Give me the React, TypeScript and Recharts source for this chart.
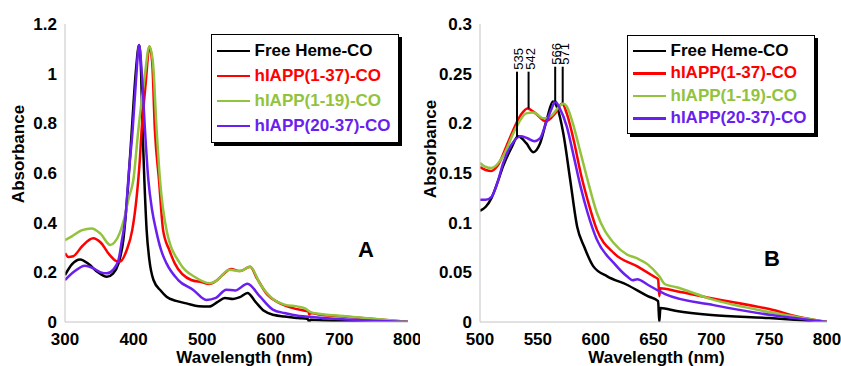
import { LineChart, Line, XAxis, YAxis, ReferenceLine, Label } from "recharts"

type Pt = [number, number]

const seriesNames = ["Free Heme-CO", "hIAPP(1-37)-CO", "hIAPP(1-19)-CO", "hIAPP(20-37)-CO"]
const seriesColors = ["#000000", "#ff0000", "#92c33c", "#6a1ff0"]

// panel A: 300-800 nm
const xTicksA = [300, 400, 500, 600, 700, 800]
const yTicksA = [0, 0.2, 0.4, 0.6, 0.8, 1, 1.2]

const freeA: Pt[] = [
  [300, 0.189], [310, 0.232], [322, 0.252], [335, 0.232], [348, 0.2], [361, 0.182], [370, 0.195],
  [378, 0.236], [385, 0.33], [392, 0.55], [398, 0.8], [403, 1.0], [408, 1.115], [411, 1.0],
  [413, 0.78], [416, 0.55], [419, 0.37], [423, 0.25], [429, 0.169], [440, 0.125], [448, 0.102],
  [462, 0.085], [477, 0.075], [495, 0.063], [510, 0.062], [522, 0.08], [533, 0.097], [545, 0.093],
  [555, 0.1], [566, 0.117], [578, 0.08], [590, 0.045], [605, 0.028], [620, 0.022], [640, 0.016],
  [654, 0.012], [656, 0], [658, 0.009], [680, 0.006], [700, 0.004], [750, 0.002], [800, 0],
]
const h137A: Pt[] = [
  [300, 0.277], [305, 0.262], [312, 0.265], [325, 0.305], [341, 0.337], [352, 0.32], [365, 0.27],
  [375, 0.245], [380, 0.243], [390, 0.29], [398, 0.37], [404.5, 0.505], [409, 0.65], [411.7, 0.773],
  [415, 0.88], [418, 0.974], [423, 1.109], [427, 1.05], [431, 0.773], [437, 0.572], [443, 0.37],
  [452, 0.29], [460, 0.236], [484, 0.169], [500, 0.16], [510, 0.153], [520, 0.165], [530, 0.19],
  [542, 0.213], [555, 0.205], [570, 0.222], [580, 0.175], [595, 0.11], [610, 0.08], [630, 0.058],
  [650, 0.045], [655, 0.042], [656, 0.03], [658, 0.036], [670, 0.03], [700, 0.023], [750, 0.012], [800, 0],
]
const h119A: Pt[] = [
  [300, 0.33], [310, 0.345], [325, 0.37], [339, 0.377], [352, 0.355], [366, 0.31], [372, 0.32],
  [380, 0.36], [387.5, 0.43], [393, 0.5], [399.6, 0.572], [406.9, 0.773], [415.6, 0.974], [423, 1.109],
  [428, 1.05], [433.6, 0.773], [438.5, 0.572], [448, 0.37], [467.6, 0.236], [490, 0.18], [511, 0.156],
  [520, 0.165], [540, 0.21], [555, 0.205], [570, 0.222], [585, 0.15], [600, 0.1], [620, 0.07],
  [640, 0.062], [650, 0.055], [658, 0.04], [665, 0.035], [700, 0.025], [750, 0.013], [800, 0],
]
const h2037A: Pt[] = [
  [300, 0.169], [312, 0.2], [329, 0.227], [342, 0.215], [352, 0.2], [361, 0.196], [370, 0.21],
  [378, 0.25], [383, 0.33], [388, 0.42], [393, 0.6], [398.6, 0.773], [403.5, 0.974], [408, 1.115],
  [412, 1.0], [416.6, 0.773], [421.5, 0.572], [427, 0.45], [432.7, 0.37], [440, 0.29], [448, 0.236],
  [465, 0.169], [487, 0.129], [506, 0.089], [520, 0.097], [535, 0.13], [548, 0.127], [566, 0.154],
  [584, 0.103], [603, 0.05], [620, 0.036], [642, 0.024], [660, 0.02], [700, 0.012], [750, 0.005], [800, 0],
]

// panel B: 500-800 nm
const xTicksB = [500, 550, 600, 650, 700, 750, 800]
const yTicksB = [0, 0.05, 0.1, 0.15, 0.2, 0.25, 0.3]

const freeB: Pt[] = [
  [500, 0.112], [505, 0.116], [510, 0.125], [515, 0.14], [520, 0.157], [527, 0.175], [533, 0.187],
  [540, 0.18], [546, 0.171], [552, 0.18], [558, 0.205], [563, 0.222], [567, 0.215], [572, 0.19],
  [578, 0.143], [584, 0.096], [590, 0.076], [598, 0.056], [610, 0.046], [627, 0.0375], [645, 0.026],
  [654, 0.021], [655, 0], [656, 0.014], [670, 0.011], [700, 0.007], [750, 0.004], [800, 0],
]
const h137B: Pt[] = [
  [500, 0.156], [505, 0.153], [510, 0.152], [515, 0.157], [525, 0.183], [535, 0.208], [541, 0.215],
  [548, 0.21], [557, 0.202], [565, 0.21], [571, 0.22], [575, 0.21], [581, 0.183], [587, 0.15],
  [593, 0.123], [601, 0.093], [616, 0.069], [636, 0.056], [650, 0.046], [654, 0.043], [655, 0.026],
  [656, 0.034], [670, 0.031], [700, 0.024], [750, 0.013], [780, 0.004], [800, 0],
]
const h119B: Pt[] = [
  [500, 0.16], [505, 0.156], [510, 0.155], [520, 0.167], [530, 0.193], [540, 0.21], [546, 0.211],
  [555, 0.205], [562, 0.208], [567, 0.215], [572, 0.22], [575, 0.217], [581, 0.197], [587, 0.17],
  [593, 0.143], [601, 0.11], [616, 0.079], [627, 0.068], [636, 0.064], [645, 0.058], [655, 0.046],
  [660, 0.038], [670, 0.035], [700, 0.023], [750, 0.01], [800, 0],
]
const h2037B: Pt[] = [
  [500, 0.123], [505, 0.123], [510, 0.126], [515, 0.14], [520, 0.16], [527, 0.178], [535, 0.187],
  [541, 0.185], [547, 0.182], [552, 0.185], [557, 0.2], [562, 0.215], [565, 0.222], [569, 0.215],
  [575, 0.197], [581, 0.167], [587, 0.136], [593, 0.11], [601, 0.083], [616, 0.059], [627, 0.046],
  [632, 0.042], [636, 0.043], [645, 0.0375], [655, 0.031], [660, 0.028], [702, 0.017], [752, 0.007], [800, 0],
]

// peak markers in panel B: label, wavelength, top, bottom
const peakLabels = ["535", "542", "566", "571"]
const peakX = [532, 542, 565, 571.5]
const peakTop = [0.252, 0.252, 0.257, 0.257]
const peakBottom = [0.186, 0.215, 0.222, 0.221]

const toRows = (pts: Pt[]) => pts.map(([x, y]) => ({ x, y }))

const font = "'Liberation Sans', Arial, Helvetica, sans-serif"
const gray = "#c4c4c4"
const tickStyle = { fill: "#000", fontSize: 17, fontWeight: "bold" }

const YTitle = (props: any) => {
  const vb = props.viewBox
  if (!vb) return null
  const cx = vb.x + props.ox
  const cy = vb.y + vb.height / 2 + props.oy
  return (
    <text x={cx} y={cy} transform={`rotate(-90 ${cx} ${cy})`} textAnchor="middle" dominantBaseline="central"
      fontSize={17} fontWeight="bold" fill="#000">
      Absorbance
    </text>
  )
}

const XTitle = (props: any) => {
  const vb = props.viewBox
  if (!vb) return null
  const cx = vb.x + vb.width / 2 + props.dx2
  return (
    <text x={cx} y={vb.y + 35} textAnchor="middle" dominantBaseline="central" fontSize={17} fontWeight="bold" fill="#000">
      Wavelength (nm)
    </text>
  )
}

const PeakLabel = (props: any) => {
  const vb = props.viewBox
  if (!vb) return null
  const x = vb.x + 6
  const y = vb.y - 2
  return (
    <text x={x} y={y} transform={`rotate(-90 ${x} ${y})`} fontSize={13} fill="#000">
      {props.txt}
    </text>
  )
}

function LegendBox({ left, top, rowH, padTop }: { left: number; top: number; rowH: number; padTop: number }) {
  return (
    <div
      style={{
        position: "absolute", left, top, width: 188, boxSizing: "border-box",
        paddingTop: padTop, paddingBottom: padTop, border: "1.5px solid #000",
        boxShadow: "3px 3px 0 #000", background: "#fff",
      }}
    >
      {seriesNames.map((name, i) => (
        <div key={name} style={{ display: "flex", alignItems: "center", height: rowH }}>
          <span style={{ display: "inline-block", width: 33, height: 2.5, marginLeft: 4.5, background: seriesColors[i] }} />
          <span style={{ marginLeft: 5, fontSize: 17, fontWeight: "bold", color: seriesColors[i], whiteSpace: "nowrap" }}>
            {name}
          </span>
        </div>
      ))}
    </div>
  )
}

function Panel({ series, xDomain, xTicks, yDomain, yTicks, width, right, yw, titleX, titleY, children }: any) {
  return (
    <LineChart width={width} height={366} margin={{ top: 24, right, bottom: 0, left: 0 }}>
      <XAxis dataKey="x" type="number" domain={xDomain} ticks={xTicks} allowDataOverflow height={44}
        axisLine={{ stroke: gray }} tickLine={false} tickMargin={5} tick={tickStyle}>
        <Label content={<XTitle dx2={titleX} />} />
      </XAxis>
      <YAxis type="number" domain={yDomain} ticks={yTicks} allowDataOverflow width={yw}
        axisLine={{ stroke: gray }} tickLine={false} tick={tickStyle}>
        <Label content={<YTitle ox={titleY[0]} oy={titleY[1]} />} />
      </YAxis>
      <XAxis xAxisId="top" orientation="top" type="number" domain={xDomain} height={0} tick={false}
        tickLine={false} axisLine={{ stroke: gray }} />
      <YAxis yAxisId="right" orientation="right" type="number" domain={yDomain} width={0} tick={false}
        tickLine={false} axisLine={{ stroke: gray }} />
      {series.map((pts: Pt[], i: number) => (
        <Line key={seriesNames[i]} data={toRows(pts)} dataKey="y" name={seriesNames[i]} type="monotone"
          stroke={seriesColors[i]} strokeWidth={2.5} dot={false} isAnimationActive={false} />
      ))}
      {children}
    </LineChart>
  )
}

export default function App() {
  return (
    <div style={{ position: "absolute", left: 0, top: 0, width: 841, height: 366, fontFamily: font, background: "#fff" }}>
      <div style={{ position: "absolute", left: 0, top: 0 }}>
        <Panel series={[freeA, h137A, h119A, h2037A]} xDomain={[300, 800]} xTicks={xTicksA} yDomain={[0, 1.2]}
          yTicks={yTicksA} width={420} right={12} yw={65} titleX={8} titleY={[18, -19]} />
      </div>
      <div style={{ position: "absolute", left: 420, top: 0 }}>
        <Panel series={[freeB, h137B, h119B, h2037B]} xDomain={[500, 800]} xTicks={xTicksB} yDomain={[0, 0.3]}
          yTicks={yTicksB} width={421} right={14} yw={60} titleX={3} titleY={[10, -24]}>
          {peakLabels.map((lab, i) => (
            <ReferenceLine key={lab} segment={[{ x: peakX[i], y: peakBottom[i] }, { x: peakX[i], y: peakTop[i] }]}
              stroke="#000" strokeWidth={2} ifOverflow="visible" label={<PeakLabel txt={lab} />} />
          ))}
        </Panel>
      </div>
      <LegendBox left={211} top={34} rowH={25} padTop={3.5} />
      <LegendBox left={627} top={35} rowH={22.5} padTop={3.5} />
      <div style={{ position: "absolute", left: 366, top: 239, transform: "translateX(-50%)", fontSize: 22, lineHeight: "22px", fontWeight: "bold" }}>
        A
      </div>
      <div style={{ position: "absolute", left: 772, top: 248, transform: "translateX(-50%)", fontSize: 22, lineHeight: "22px", fontWeight: "bold" }}>
        B
      </div>
    </div>
  )
}
